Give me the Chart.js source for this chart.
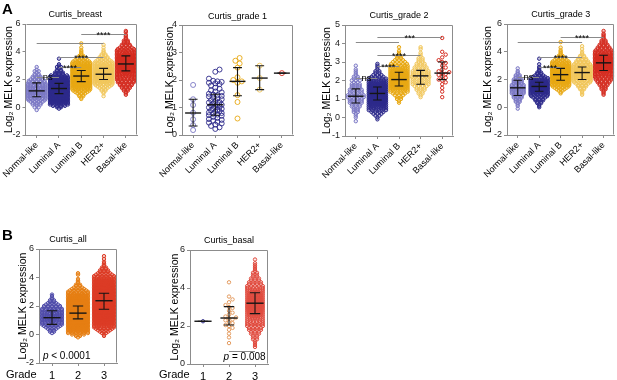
<!DOCTYPE html>
<html><head><meta charset="utf-8">
<script src="https://cdn.jsdelivr.net/npm/chart.js@4.4.1/dist/chart.umd.min.js"></script>
<style>
html,body{margin:0;padding:0;background:#fff;}
#wrap{position:relative;width:617px;height:380px;overflow:hidden;font-family:'Liberation Sans',Arial,sans-serif;}
#wrap canvas{position:absolute;}
.lab{position:absolute;color:#000;line-height:1;white-space:nowrap;}
</style></head><body>
<div id="wrap">
<canvas id="cBreast" style="left:0;top:0;width:150px;height:190px" width="150" height="190"></canvas>
<canvas id="cG1" style="left:150px;top:0;width:150px;height:190px" width="150" height="190"></canvas>
<canvas id="cG2" style="left:300px;top:0;width:160px;height:190px" width="160" height="190"></canvas>
<canvas id="cG3" style="left:460px;top:0;width:157px;height:190px" width="157" height="190"></canvas>
<canvas id="cAll" style="left:0;top:190px;width:150px;height:190px" width="150" height="190"></canvas>
<canvas id="cBasal" style="left:160px;top:190px;width:120px;height:190px" width="120" height="190"></canvas>
<div class="lab" style="left:2px;top:1px;font-size:15px;font-weight:bold">A</div>
<div class="lab" style="left:2px;top:227px;font-size:15px;font-weight:bold">B</div>
<div class="lab" style="left:6px;top:369px;font-size:11px">Grade</div>
<div class="lab" style="left:159px;top:369px;font-size:11px">Grade</div>
</div>
<script>
// ---------------- DATA ----------------
const subtypes = ["Normal-like", "Luminal A", "Luminal B", "HER2+", "Basal-like"];
const gradeLabels = ["1", "2", "3"];
const binStep = 0.1; // dense groups: number of samples at each 0.1 level, from a start value

// Curtis_breast
const breastStart = [-0.2, -0.1, 0.6, 0.8, 0.9];
const breastNormal = [1,0,2,1,3,3,4,5,6,7, 8,8,9,9,9,8,8,7,7,6, 5,5,4,3,3,2,2,1,2,1, 0,1];
const breastLumA = [1,2,4,6,9,12,16,20,24,28, 32,34,36,38,38,36,34,30,26,22, 18,14,10,7,5,3,3,2,2,1, 2,1,1,0,0,0,1];
const breastLumB = [1,1,2,2,3,4,5,7,9,11, 14,17,20,23,26,28,29,29,28,26, 23,20,17,14,11,9,7,5,4,3, 2,2,1,1,1,1,0,1,0,0, 1];
const breastHer2 = [1,0,1,1,2,2,3,4,5,7, 8,10,11,12,13,13,13,12,12,11, 10,9,8,7,6,5,4,3,3,2, 2,1,1,1,0,1,0,1];
const breastBasal = [1,1,1,2,2,3,3,4,4,5, 5,6,6,7,7,8,9,10,11,12, 13,14,14,14,14,13,12,11,10,9, 8,7,6,5,4,3,3,2,2,2, 1,1,1,1,0,1,1];
const breastMedian = [1.18, 1.35, 2.25, 2.38, 3.12];
const breastQ1 = [0.76, 0.98, 1.85, 2.0, 2.62];
const breastQ3 = [1.76, 1.72, 2.65, 2.8, 3.7];
const breastBrackets = [[0,1,2.16,"ns"],[1,2,2.92,"****"],[1,3,3.65,"****"],[0,3,4.65,""],[2,4,5.26,"****"]];

// Curtis_grade 1 (individual values)
const g1Normal = [1.82, 1.30, 1.09, 0.81, 0.57, 0.36, 0.18];
const g1LumA = [2.38,2.30,2.05,1.97,1.95,1.93,1.90,1.88,1.85,1.80,1.72,1.68,1.62,1.58,1.55,1.50,1.47,1.45,1.42,1.40,1.36,1.33,1.30,1.27,1.24,1.20,1.18,1.15,1.12,1.10,1.08,1.05,1.02,1.00,0.97,0.95,0.92,0.90,0.87,0.85,0.82,0.80,0.77,0.74,0.72,0.70,0.66,0.62,0.58,0.55,0.52,0.48,0.45,0.42,0.38,0.33,0.28,0.22];
const g1LumB = [2.80, 2.70, 2.60, 2.45, 2.10, 2.00, 1.95, 1.90, 1.45, 1.20, 0.60];
const g1Her2 = [2.52, 2.07, 1.65];
const g1Basal = [2.25];
const g1Median = [0.8, 1.1, 1.95, 2.07, 2.25];
const g1Q1 = [0.33, 0.72, 1.43, 1.65, 2.25];
const g1Q3 = [1.3, 1.48, 2.45, 2.52, 2.25];

// Curtis_grade 2
const g2Start = [-0.2, -0.1, 0.8, 1.1];
const g2Normal = [1,0,1,1,1,2,2,2,3,3, 4,4,4,5,5,4,4,4,3,3, 3,2,3,2,2,1,1,1,1,0, 1];
const g2LumA = [1,1,2,3,4,6,8,10,12,14, 16,18,19,20,20,19,18,16,14,12, 10,8,6,4,3,2,2,1,1,1, 1];
const g2LumB = [1,1,2,2,3,4,6,8,10,12, 14,15,16,16,15,14,12,10,9,8, 6,5,4,3,2,2,1,1,1,0, 1];
const g2Her2 = [1,1,2,2,3,3,4,5,5,5, 5,6,5,5,5,4,4,3,3,2, 2,2,1,1,1,0,1,1];
const g2Basal = [4.30,3.55,3.40,3.25,3.10,3.00,2.95,2.80,2.70,2.60,2.50,2.45,2.40,2.35,2.30,2.20,2.15,2.05,2.00,1.90,1.80,1.60,1.40,1.10];
const g2Median = [1.15, 1.3, 2.05, 2.25, 2.4];
const g2Q1 = [0.78, 0.95, 1.7, 1.8, 2.05];
const g2Q3 = [1.55, 1.65, 2.45, 2.55, 3.0];
const g2Brackets = [[0,1,2.15,"ns"],[1,2,2.8,"****"],[1,3,3.38,"****"],[0,2,4.06,""],[1,4,4.37,"***"]];

// Curtis_grade 3
const g3Start = [-0.1, 0.0, 1.0, 0.9, 0.9];
const g3Normal = [1,0,1,1,1,2,2,2,3,3, 3,4,4,4,4,4,4,4,3,3, 3,3,2,2,2,1,1,1,0,1];
const g3LumA = [1,1,1,2,2,3,3,4,5,6, 8,10,12,14,15,15,14,13,11,9, 7,6,4,3,2,2,1,1,1,1, 0,1,0,0,0,1];
const g3LumB = [1,1,2,3,4,5,7,9,11,14, 17,19,21,22,21,20,18,16,14,12, 10,8,6,5,4,3,2,2,1,1, 1,1,0,1,0,0,0,1];
const g3Her2 = [1,1,1,1,2,2,3,3,4,5, 6,7,8,9,9,9,9,9,8,8, 7,6,5,4,4,3,3,2,2,1, 1,1,0,1,0,1];
const g3Basal = [1,1,1,1,2,2,2,3,3,4, 4,5,5,6,6,7,8,9,10,11, 12,12,13,13,12,12,11,10,9,8, 7,6,5,4,4,3,3,2,2,2, 1,1,1,1,1,0,1];
const g3Median = [1.4, 1.5, 2.35, 2.5, 3.2];
const g3Q1 = [0.85, 1.15, 1.95, 2.0, 2.65];
const g3Q3 = [1.95, 1.8, 2.8, 2.9, 3.75];
const g3Brackets = [[0,1,2.16,"ns"],[1,2,2.92,"****"],[1,3,3.64,"****"],[0,3,4.68,""],[2,4,5.04,"****"]];

// Curtis_all by grade
const allStart = [0.1, -0.2, -0.1];
const allG1 = [1,2,2,3,4,5,6,7,8,9, 10,10,10,9,9,8,7,6,5,5, 4,3,2,2,1,1,1,1];
const allG2 = [1,2,4,6,9,12,16,20,25,30, 35,40,44,47,49,50,50,49,47,44, 41,38,34,30,27,24,21,18,15,12, 10,8,6,5,4,3,2,2,1,1, 1,1,0,0,1,1];
const allG3 = [1,1,2,3,4,5,7,9,11,13, 15,18,20,22,25,27,29,31,33,35, 37,38,39,40,40,40,39,38,37,35, 33,31,28,26,23,20,18,15,13,11, 9,7,6,5,4,3,3,2,2,1, 1,1,1,0,1,0,1];
const allMedian = [1.18, 1.5, 2.37];
const allQ1 = [0.71, 1.1, 1.77];
const allQ3 = [1.67, 2.0, 2.89];
const allNote = "< 0.0001";

// Curtis_basal by grade (grade 1 = g1Basal, grade 2 = g2Basal, grade 3 = g3Basal)
const basalMedian = [2.25, 2.42, 3.2];
const basalQ1 = [2.25, 2.05, 2.65];
const basalQ3 = [2.25, 3.02, 3.75];
const basalBrackets = [[1,2,0.7,""]];
const basalNote = "= 0.008";

// ---------------- DRAWING ----------------
const FONT = "'Liberation Sans', Arial, sans-serif";
Chart.defaults.font.family = FONT;
const AXIS = '#8c8c8c', BRACKET = '#8a8a8a', INK = '#151515';
const subtypeColors = ['#7a77c4', '#2c298a', '#e8a812', '#f1c65a', '#d42b1f'];

function withAlpha(hex, a) {
  const n = parseInt(hex.slice(1), 16);
  return `rgba(${(n >> 16) & 255},${(n >> 8) & 255},${n & 255},${a})`;
}

function swarm(values, pxY, pxCat, diam, factor, capPx) {
  const placed = [], out = [];
  const minD = diam * factor, step = minD * 0.5;
  const kMax = 2 * Math.floor(capPx / step) + 1;
  [...values].sort((a, b) => a - b).forEach(v => {
    const yy = v * pxY;
    let best = 0, bestD = -1;
    for (let k = 0; k < kMax; k++) {
      const m = Math.ceil(k / 2) * (k % 2 ? 1 : -1);
      const off = m * step;
      let dmin = Infinity;
      placed.forEach(p => { const d = Math.hypot(p.o - off, p.y - yy); if (d < dmin) dmin = d; });
      if (dmin >= minD) { best = off; bestD = dmin; break; }
      if (dmin > bestD) { bestD = dmin; best = off; }
    }
    placed.push({o: best, y: yy});
    out.push({dx: best / pxCat, y: v});
  });
  return out;
}

function placePoints(chart, cfg) {
  const x = chart.scales.x, y = chart.scales.y;
  const pc = x.getPixelForValue(1) - x.getPixelForValue(0);
  const py = Math.abs(y.getPixelForValue(1) - y.getPixelForValue(0));
  const diam = cfg.radius * 2 + cfg.pointWidth;
  cfg.groups.forEach((g, gi) => {
    const pts = [];
    if (g.counts) {
      g.counts.forEach((n, i) => {
        if (!n) return;
        const v = Math.round((g.start + i * binStep) * 100) / 100;
        let d = diam * cfg.rowGap / pc;
        if (n > 1 && (n - 1) * d > 2 * cfg.halfWidth) d = 2 * cfg.halfWidth / (n - 1);
        for (let j = 0; j < n; j++) pts.push({x: gi + (j - (n - 1) / 2) * d, y: v});
      });
    } else {
      swarm(g.values, py, pc, diam, cfg.swarmFactor, cfg.swarmHalf * pc).forEach(p => pts.push({x: gi + p.dx, y: p.y}));
    }
    chart.data.datasets[gi].data = pts;
  });
  chart.update('none');
}

function overlay(cfg) {
  return {
    id: 'overlay_' + cfg.id,
    afterDatasetsDraw(chart) {
      const {ctx, scales: {x, y}} = chart;
      const pc = x.getPixelForValue(1) - x.getPixelForValue(0);
      ctx.save();
      ctx.strokeStyle = INK;
      cfg.center.forEach((m, i) => {
        const cx = x.getPixelForValue(i);
        const ym = y.getPixelForValue(m), yl = y.getPixelForValue(cfg.low[i]), yh = y.getPixelForValue(cfg.high[i]);
        ctx.lineWidth = 1.1;
        ctx.beginPath();
        ctx.moveTo(cx, yl); ctx.lineTo(cx, yh);
        ctx.moveTo(cx - cfg.capHalf * pc, yl); ctx.lineTo(cx + cfg.capHalf * pc, yl);
        ctx.moveTo(cx - cfg.capHalf * pc, yh); ctx.lineTo(cx + cfg.capHalf * pc, yh);
        ctx.stroke();
        ctx.lineWidth = 1.4;
        ctx.beginPath(); ctx.moveTo(cx - cfg.medHalf * pc, ym); ctx.lineTo(cx + cfg.medHalf * pc, ym); ctx.stroke();
      });
      (cfg.brackets || []).forEach(([a0, b0, v, lab]) => {
        const x0 = x.getPixelForValue(a0), x1 = x.getPixelForValue(b0);
        const yy = Math.round(y.getPixelForValue(v)) + 0.5;
        ctx.strokeStyle = BRACKET; ctx.lineWidth = 1;
        ctx.beginPath(); ctx.moveTo(x0, yy); ctx.lineTo(x1, yy); ctx.stroke();
        if (lab) {
          ctx.fillStyle = '#000';
          ctx.font = (lab === 'ns' ? '9.5px ' : '9px ') + FONT;
          ctx.textAlign = 'center'; ctx.textBaseline = 'alphabetic';
          ctx.fillText(lab, (x0 + x1) / 2, yy + (lab === 'ns' ? 2 : 3.5));
        }
      });
      if (cfg.note) {
        const n = cfg.note;
        ctx.fillStyle = '#000'; ctx.textBaseline = 'middle'; ctx.textAlign = 'left';
        ctx.font = 'italic 10px ' + FONT;
        const wp = ctx.measureText('p ').width;
        ctx.font = '10px ' + FONT;
        const wr = ctx.measureText(n.text).width;
        let px = x.getPixelForValue(n.x);
        if (n.align === 'center') px -= (wp + wr) / 2;
        const pyy = y.getPixelForValue(n.y);
        ctx.font = 'italic 10px ' + FONT; ctx.fillText('p', px, pyy);
        ctx.font = '10px ' + FONT; ctx.fillText(n.text, px + wp, pyy);
      }
      ctx.restore();
    },
    afterDraw(chart) {
      const {ctx, chartArea: a} = chart;
      ctx.save();
      ctx.strokeStyle = AXIS; ctx.lineWidth = 1;
      const l = Math.round(a.left) + 0.5, t = Math.round(a.top) + 0.5;
      const r = Math.round(a.right) - 0.5, b = Math.round(a.bottom) - 0.5;
      ctx.beginPath(); ctx.moveTo(l, t); ctx.lineTo(r, t); ctx.lineTo(r, b); ctx.stroke();
      // panel title over the plot area
      ctx.fillStyle = '#000'; ctx.font = '9px ' + FONT;
      ctx.textAlign = 'center'; ctx.textBaseline = 'middle';
      ctx.fillText(cfg.title, (a.left + a.right) / 2 + cfg.titleDx, a.top - cfg.titleGap);
      ctx.restore();
    }
  };
}

function makeChart(cfg) {
  const canvas = document.getElementById(cfg.id);
  const datasets = cfg.groups.map((g, i) => ({
    data: [], borderColor: cfg.colors[i], backgroundColor: withAlpha(cfg.colors[i], cfg.fillAlpha[i]),
    pointRadius: cfg.radius, pointHoverRadius: cfg.radius, pointBorderWidth: cfg.pointWidth,
    pointStyle: 'circle', showLine: false
  }));
  const chart = new Chart(canvas.getContext('2d'), {
    type: 'scatter',
    data: {datasets},
    options: {
      responsive: false, animation: false, events: [],
      layout: {padding: cfg.pad},
      plugins: {legend: {display: false}, tooltip: {enabled: false}, title: {display: false}},
      scales: {
        x: {
          type: 'linear', min: -0.5, max: cfg.cats.length - 0.5,
          afterBuildTicks: s => { s.ticks = cfg.cats.map((c, i) => ({value: i})); },
          afterFit: s => { s.height = cfg.xHeight; },
          ticks: {callback: v => cfg.cats[v], autoSkip: false, minRotation: cfg.rot, maxRotation: cfg.rot,
                  color: '#000', font: {family: FONT, size: cfg.xFont}, padding: cfg.xTickPad},
          grid: {drawOnChartArea: false, drawTicks: true, tickLength: 3, color: AXIS},
          border: {display: true, color: AXIS, width: 1}
        },
        y: {
          min: cfg.yMin, max: cfg.yMax,
          afterFit: s => { s.width = cfg.yWidth; },
          ticks: {stepSize: cfg.yStep, color: '#222', font: {family: FONT, size: 9}, padding: 2},
          title: {display: true, text: 'Log\u2082 MELK expression', color: '#000', font: {family: FONT, size: 10.5}, padding: {top: 2, bottom: 0}},
          grid: {drawOnChartArea: false, drawTicks: true, tickLength: 3, color: AXIS},
          border: {display: true, color: AXIS, width: 1}
        }
      }
    },
    plugins: [overlay(cfg)]
  });
  placePoints(chart, cfg);
  return chart;
}

const common = {radius: 1.7, pointWidth: 1.0, rowGap: 0.9, swarmFactor: 0.8, swarmHalf: 0.36, halfWidth: 0.4,
  medHalf: 0.36, capHalf: 0.2, rot: 45, xFont: 9, xTickPad: 2, titleGap: 9, titleDx: 0,
  fillAlpha: [0.2, 0.3, 0.25, 0.2, 0.25]};

makeChart(Object.assign({}, common, {
  id: 'cBreast', title: 'Curtis_breast', cats: subtypes, colors: subtypeColors, titleDx: -6,
  groups: [breastNormal, breastLumA, breastLumB, breastHer2, breastBasal].map((c, i) => ({start: breastStart[i], counts: c})),
  center: breastMedian, low: breastQ1, high: breastQ3, brackets: breastBrackets,
  yMin: -2, yMax: 6, yStep: 2, pad: {left: 0, right: 13, top: 24, bottom: 0}, yWidth: 25, xHeight: 55
}));

makeChart(Object.assign({}, common, {
  id: 'cG1', title: 'Curtis_grade 1', cats: subtypes, colors: subtypeColors, radius: 2.5, pointWidth: 0.9,
  swarmFactor: 0.72, swarmHalf: 0.33, fillAlpha: [0, 0, 0, 0, 0],
  groups: [g1Normal, g1LumA, g1LumB, g1Her2, g1Basal].map(v => ({values: v})),
  center: g1Median, low: g1Q1, high: g1Q3, brackets: [], titleGap: 8.5,
  yMin: 0, yMax: 4, yStep: 1, pad: {left: 12, right: 7, top: 25, bottom: 0}, yWidth: 20, xHeight: 55
}));

makeChart(Object.assign({}, common, {
  id: 'cG2', title: 'Curtis_grade 2', cats: subtypes, colors: subtypeColors, fillAlpha: [0.15, 0.3, 0.25, 0.15, 0],
  groups: [g2Normal, g2LumA, g2LumB, g2Her2].map((c, i) => ({start: g2Start[i], counts: c})).concat([{values: g2Basal}]),
  center: g2Median, low: g2Q1, high: g2Q3, brackets: g2Brackets,
  yMin: -1, yMax: 5, yStep: 1, pad: {left: 19, right: 7, top: 25, bottom: 0}, yWidth: 26, xHeight: 54
}));

makeChart(Object.assign({}, common, {
  id: 'cG3', title: 'Curtis_grade 3', cats: subtypes, colors: subtypeColors,
  groups: [g3Normal, g3LumA, g3LumB, g3Her2, g3Basal].map((c, i) => ({start: g3Start[i], counts: c})),
  center: g3Median, low: g3Q1, high: g3Q3, brackets: g3Brackets,
  yMin: -2, yMax: 6, yStep: 2, pad: {left: 20, right: 2, top: 24, bottom: 0}, yWidth: 27, xHeight: 55
}));

makeChart(Object.assign({}, common, {
  id: 'cAll', title: 'Curtis_all', cats: gradeLabels, colors: ['#4f4caa', '#e67e12', '#dc3b25'], titleDx: -10,
  fillAlpha: [0.2, 0.3, 0.25],
  groups: [allG1, allG2, allG3].map((c, i) => ({start: allStart[i], counts: c})),
  center: allMedian, low: allQ1, high: allQ3, brackets: [],
  note: {text: allNote, x: -0.35, y: -1.5, align: 'left'},
  halfWidth: 0.38, medHalf: 0.33, rot: 0, xFont: 11, xTickPad: 3,
  yMin: -2, yMax: 6, yStep: 2, pad: {left: 15, right: 33, top: 59, bottom: 0}, yWidth: 24, xHeight: 17
}));

makeChart(Object.assign({}, common, {
  id: 'cBasal', title: 'Curtis_basal', cats: gradeLabels, colors: ['#3a3790', '#e39a5e', '#e04a3e'],
  fillAlpha: [0, 0, 0.1],
  groups: [{values: g1Basal}, {values: g2Basal}, {start: g3Start[4], counts: g3Basal}],
  center: basalMedian, low: basalQ1, high: basalQ3, brackets: basalBrackets,
  note: {text: basalNote, x: 1.6, y: 0.37, align: 'center'},
  halfWidth: 0.3, swarmHalf: 0.3, medHalf: 0.33, rot: 0, xFont: 11, xTickPad: 3,
  yMin: 0, yMax: 6, yStep: 2, pad: {left: 7, right: 12, top: 60, bottom: 0}, yWidth: 23, xHeight: 16
}));
</script>
</body></html>
